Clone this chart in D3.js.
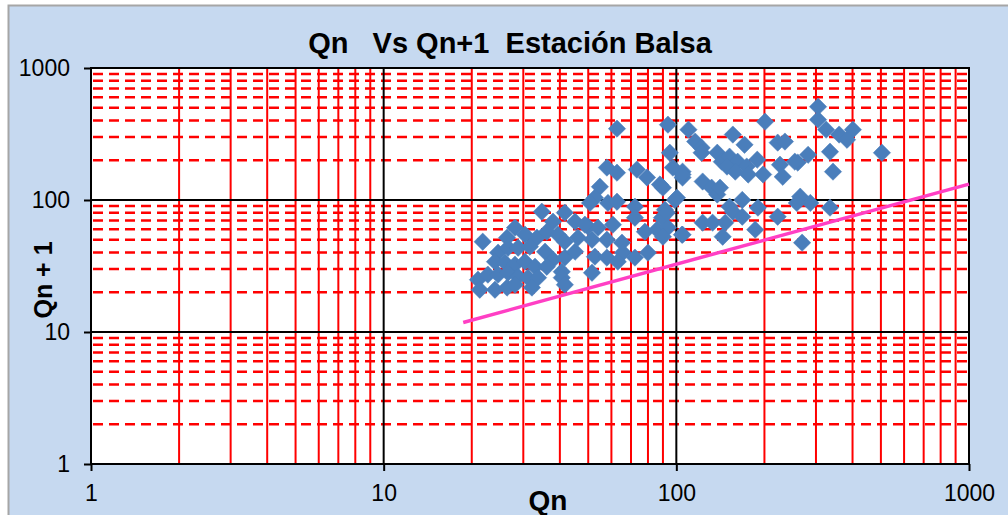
<!DOCTYPE html>
<html>
<head>
<meta charset="utf-8">
<script src="https://cdnjs.cloudflare.com/ajax/libs/d3/7.8.5/d3.min.js"></script>
<style>
  body { margin: 0; background: #ffffff; }
  svg text { font-family: "Liberation Sans", Arial, sans-serif; }
</style>
</head>
<body>
<div id="chart"></div>
<script>
// Qn vs Qn+1 scatter
var qn = [
  305, 305, 325, 360, 401, 383, 335, 343, 282, 260, 504, 265, 287, 335, 269, 258,
  110, 116, 122, 122, 156, 171, 201, 138, 143, 152, 162, 149, 174, 189, 159, 176,
  198, 222, 235, 226, 231, 254, 105, 105, 123, 132, 138, 141, 168, 152, 156, 190,
  168, 123, 133, 147, 144, 186, 222, 105,
  62.7, 93.6, 95, 57.9, 62.7, 73.3, 79.4, 87.9, 97.3, 105, 54.8, 52.7, 50.7, 58.4,
  62.7, 72.2, 72.2, 91.4, 100.5, 89.3, 49.9, 54, 60.7, 78.1, 85.9, 93.6, 104.5,
  51.5, 57.9, 65.2, 52.7, 57.9, 65.7, 72.2, 80, 51.5, 63.1, 90, 92.9, 98.9, 90,
  21.8, 34.7, 37.9, 41.6, 45.1, 48.7, 28.1, 30.4, 26.4, 33.4, 36.1, 39.4, 41.6,
  46.1, 24.6, 26.6, 28.8, 31.6, 35.6, 37.9, 41.6, 45.1, 24, 26, 28.1, 30.4, 32.9,
  36.1, 40.6, 21, 22.7, 24.6, 26.6, 28.8, 31.1, 33.7, 21.3, 24, 26.4, 28.1, 32.1,
  40.6, 41.6
];
var qn1 = [
  509, 406, 341, 313, 341, 286, 232, 164, 220, 192, 228, 106, 95, 87.5, 47.5, 95,
  341, 277, 249, 228, 313, 262, 392, 228, 195, 213, 195, 179, 179, 202, 164, 156,
  156, 272, 277, 185, 150, 195, 164, 148, 138, 124, 110, 124, 100, 89, 81.5, 87.5,
  74.7, 67.3, 67.3, 67.3, 52.7, 59.6, 74.7, 54.6,
  347, 372, 228, 176, 161, 170, 148, 131, 176, 156, 126, 104, 95, 95,
  97, 89, 73.4, 84.5, 104, 73.4, 62.8, 61.7, 65, 57.5, 59.6, 61.7, 54.6,
  50, 50, 47.5, 37.2, 36.6, 39.9, 36.6, 39.9, 28.1, 34.1, 124, 80.2, 100, 52.7,
  48.3, 81.5, 68.5, 80.2, 68.5, 65, 61.7, 54.6, 51.8, 51.8, 57.5, 54.6, 48.3,
  51.8, 39.9, 43.5, 43.5, 44.3, 40.6, 35.3, 36.6, 40.6, 34.1, 33.5, 32.4, 34.1, 31.2,
  31.2, 28.6, 24.9, 27.2, 27.2, 28.1, 26.2, 25.8, 25.8, 20.9, 20.9, 21.7, 22.8, 21.7,
  25.8, 22.8
];
// pink reference line end points
var lineX = [18.7, 1000];
var lineY = [11.8, 132];
var tickValues = [1, 10, 100, 1000];
var minorSteps = [2, 3, 4, 5, 6, 7, 8, 9];

var W = 1008, H = 515;
var margin = {top: 68, right: 39, bottom: 51, left: 91};
var width = W - margin.left - margin.right;
var height = H - margin.top - margin.bottom;

var svg = d3.select('#chart')
  .append('svg')
    .attr('width', W)
    .attr('height', H);

// chart area background with its border
svg.append('rect')
  .attr('x', 8.5).attr('y', 5.5)
  .attr('width', W + 10).attr('height', H + 10)
  .attr('fill', '#c6d9f0')
  .attr('stroke', '#a6a6a6')
  .attr('stroke-width', 2);

var g = svg.append('g')
  .attr('transform', 'translate(' + margin.left + ',' + margin.top + ')');

var x = d3.scaleLog().domain([1, 1000]).range([0, width]);
var y = d3.scaleLog().domain([1, 1000]).range([height, 0]);

g.append('rect')
  .attr('width', width).attr('height', height)
  .attr('fill', '#ffffff');

var minor = [];
[1, 10, 100].forEach(function(d){
  minorSteps.forEach(function(k){ minor.push(d * k); });
});

// minor grid: red, vertical solid, horizontal dashed
g.selectAll('.vminor')
  .data(minor).enter()
  .append('line')
    .attr('class', 'vminor')
    .attr('x1', d => x(d)).attr('x2', d => x(d))
    .attr('y1', 0).attr('y2', height)
    .attr('stroke', '#ff0000').attr('stroke-width', 2);

g.selectAll('.hminor')
  .data(minor).enter()
  .append('line')
    .attr('class', 'hminor')
    .attr('x1', 0).attr('x2', width)
    .attr('y1', d => y(d)).attr('y2', d => y(d))
    .attr('stroke', '#ff0000').attr('stroke-width', 2.5)
    .attr('stroke-dasharray', '10,6')
    .attr('stroke-dashoffset', -2);

// major grid
var major = [10, 100];
g.selectAll('.vmajor')
  .data(major).enter()
  .append('line')
    .attr('x1', d => x(d)).attr('x2', d => x(d))
    .attr('y1', 0).attr('y2', height)
    .attr('stroke', '#000000').attr('stroke-width', 2);
g.selectAll('.hmajor')
  .data(major).enter()
  .append('line')
    .attr('x1', 0).attr('x2', width)
    .attr('y1', d => y(d)).attr('y2', d => y(d))
    .attr('stroke', '#000000').attr('stroke-width', 2);

g.append('rect')
  .attr('width', width).attr('height', height)
  .attr('fill', 'none')
  .attr('stroke', '#000000').attr('stroke-width', 2);

// axes
var xAxis = d3.axisBottom(x).tickValues(tickValues).tickFormat(d3.format('d'))
  .tickSize(7).tickPadding(14);
var yAxis = d3.axisLeft(y).tickValues(tickValues).tickFormat(d3.format('d'))
  .tickSize(7).tickPadding(14);

var gx = g.append('g')
  .attr('transform', 'translate(0,' + height + ')')
  .call(xAxis);
var gy = g.append('g').call(yAxis);

[gx, gy].forEach(function(a){
  a.select('.domain').remove();
  a.selectAll('line').attr('stroke', '#000000').attr('stroke-width', 2);
  a.selectAll('text')
    .style('font-family', '"Liberation Sans", Arial, sans-serif')
    .style('font-size', '23px')
    .attr('fill', '#000000');
});

// points
var pts = qn.map(function(d, i){ return {x: d, y: qn1[i]}; });
var diamond = d3.symbol().type(d3.symbolSquare).size(150);
g.selectAll('.pt')
  .data(pts).enter()
  .append('path')
    .attr('class', 'pt')
    .attr('d', diamond)
    .attr('transform', d => 'translate(' + x(d.x) + ',' + y(d.y) + ') rotate(45)')
    .attr('fill', '#4a7ebb')
    .attr('stroke', '#4a7ebb')
    .attr('stroke-width', 0.5);

// pink line
var lineData = lineX.map(function(d, i){ return [d, lineY[i]]; });
g.append('path')
  .datum(lineData)
  .attr('d', d3.line().x(d => x(d[0])).y(d => y(d[1])))
  .attr('stroke', '#ff3fc4')
  .attr('stroke-width', 3.5)
  .attr('fill', 'none');

// title and axis titles
svg.append('text')
  .attr('x', 510).attr('y', 53)
  .attr('text-anchor', 'middle')
  .style('white-space', 'pre')
  .style('font-size', '29px')
  .style('font-weight', 'bold')
  .text('Qn   Vs Qn+1  Estación Balsa');

svg.append('text')
  .attr('x', 548).attr('y', 510)
  .attr('text-anchor', 'middle')
  .style('font-size', '28px')
  .style('font-weight', 'bold')
  .text('Qn');

svg.append('text')
  .attr('transform', 'translate(52,280) rotate(-90)')
  .attr('text-anchor', 'middle')
  .style('font-size', '25px')
  .style('font-weight', 'bold')
  .text('Qn + 1');
</script>
</body>
</html>
